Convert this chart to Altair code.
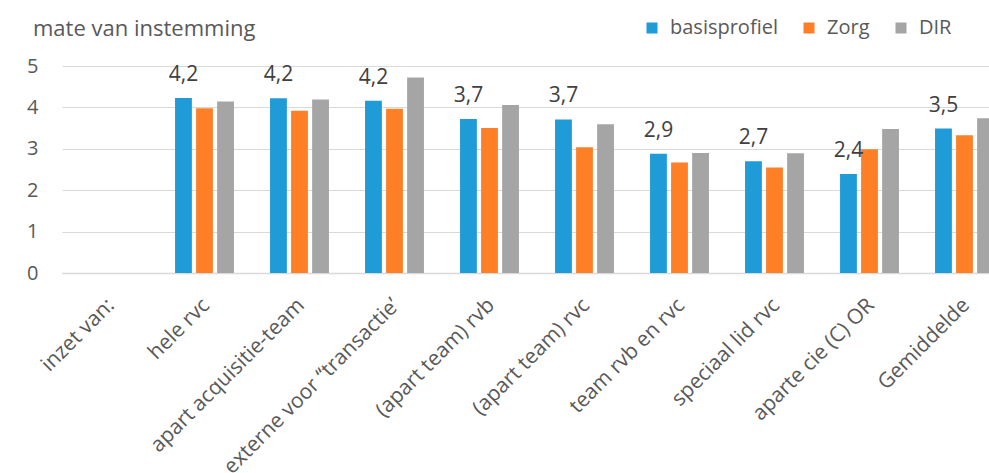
import altair as alt
import pandas as pd

categories = ["inzet van:", "hele rvc", "apart acquisitie-team", "externe voor \u2018\u2018transactie\u2019",
              "(apart team) rvb", "(apart team) rvc", "team rvb en rvc", "speciaal lid rvc",
              "aparte cie (C) OR", "Gemiddelde"]
data_categories = categories[1:]
series = ["basisprofiel", "Zorg", "DIR"]
colors = ["#1F9BD7", "#FF7F27", "#A5A5A5"]
y_ticks = [0, 1, 2, 3, 4, 5]

basisprofiel = [4.23, 4.22, 4.16, 3.72, 3.71, 2.88, 2.70, 2.39, 3.49]
zorg = [3.98, 3.92, 3.97, 3.50, 3.04, 2.67, 2.55, 2.99, 3.33]
dir_ = [4.14, 4.19, 4.72, 4.06, 3.59, 2.90, 2.89, 3.48, 3.74]

rows = []
for s, vals in zip(series, [basisprofiel, zorg, dir_]):
    for c, v in zip(data_categories, vals):
        rows.append({"cat": c, "series": s, "value": v,
                     "label": f"{v:.1f}".replace(".", ",")})
df = pd.DataFrame(rows)

FONT = "Open Sans"
GREY = "#595959"

# the full category axis runs past the right edge of the picture (as in the reference)
x = alt.X("cat:N", sort=categories,
          scale=alt.Scale(domain=categories, paddingInner=0.38, paddingOuter=0.19,
                          range=[0, 950]),
          axis=alt.Axis(title=None, labelAngle=-45, labelFontSize=21, labelFont=FONT,
                        labelColor=GREY, ticks=False, domainColor="#D9D9D9",
                        domainWidth=1.5, labelPadding=21, labelOffset=-6, labelLimit=400,
                        labelOverlap=False))
xo = alt.XOffset("series:N", sort=series,
                 scale=alt.Scale(domain=series, paddingInner=0.2, paddingOuter=0))
y = alt.Y("value:Q", scale=alt.Scale(domain=[0, 5], nice=False),
          axis=alt.Axis(title=None, values=y_ticks, grid=True, labelOverlap=False,
                        gridColor="#D9D9D9", gridWidth=1, domain=False, ticks=False,
                        labelFontSize=20, labelFont=FONT, labelColor=GREY, labelPadding=24))

bars = alt.Chart(df).mark_bar().encode(
    x=x, xOffset=xo, y=y,
    color=alt.Color("series:N", sort=series,
                    scale=alt.Scale(domain=series, range=colors),
                    legend=alt.Legend(title=None, orient="none", direction="horizontal",
                                      legendX=580, legendY=-48, symbolType="square",
                                      symbolSize=121, symbolStrokeWidth=0,
                                      labelFontSize=20, labelFont=FONT, labelColor=GREY,
                                      labelOffset=8, columnPadding=21))
)

labels = alt.Chart(df).transform_filter(alt.datum.series == "basisprofiel").mark_text(
    baseline="alphabetic", dy=-17, fontSize=21, font=FONT, color="#404040"
).encode(x=x, xOffset=xo, y=y, text="label:N")

chart = alt.layer(bars, labels).properties(
    width=927, height=207,
    autosize=alt.AutoSizeParams(type="none"),
    padding={"left": 62, "top": 66, "right": 0, "bottom": 200},
    title=alt.TitleParams("mate van instemming", anchor="start", frame="group", dx=-29,
                          offset=-40, baseline="alphabetic", fontSize=22, font=FONT,
                          fontWeight="normal", color=GREY),
).configure_view(stroke=None)

chart.save("out.html", embed_options={"renderer": "svg", "actions": False})
